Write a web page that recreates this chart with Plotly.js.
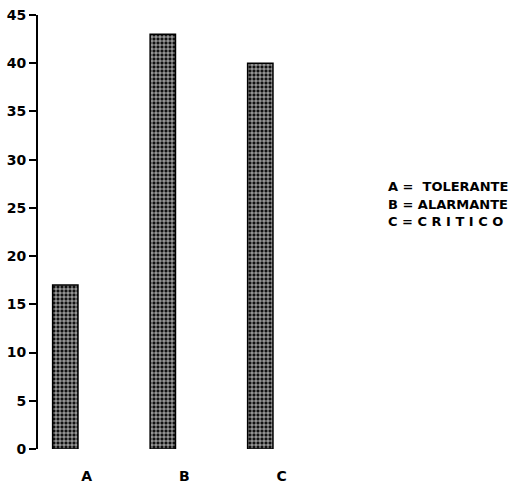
<!DOCTYPE html>
<html>
<head>
<meta charset="utf-8">
<script src="https://cdn.plot.ly/plotly-3.0.1.min.js"></script>
<style>html,body{margin:0;padding:0;background:#fff;}#chart{width:529px;height:486px;}</style>
</head>
<body>
<div id="chart"></div>
<script>
var categories = ['A', 'B', 'C'];
var values = [17, 43, 40];
var keyLabels = ['A =  TOLERANTE', 'B = ALARMANTE', 'C = C R I T I C O'];
var yTickVals = [0, 5, 10, 15, 20, 25, 30, 35, 40, 45];
var boundaryTicks = [0, 1, 2, 3, 4];

var font = {family: '"DejaVu Sans", sans-serif', size: 14, color: '#000', weight: 'bold'};

var trace = {
  type: 'bar',
  x: categories,
  y: values,
  xaxis: 'x2',
  yaxis: 'y',
  offset: -0.35,
  width: 0.26,
  marker: {
    color: '#111',
    line: {color: '#000', width: 1.5},
    pattern: {shape: '+', fgcolor: '#ffffff', bgcolor: '#111', size: 4, solidity: 0.3}
  },
  hoverinfo: 'none'
};

var annotations = keyLabels.map(function (t, i) {
  return {
    xref: 'paper', yref: 'paper',
    x: 0.893, y: 0.604 - i * 0.04,
    xanchor: 'left', yanchor: 'middle',
    text: t, showarrow: false,
    font: {family: font.family, size: 13, color: '#000', weight: 'bold'}
  };
});

var layout = {
  width: 529, height: 486,
  margin: {l: 38, r: 101, t: 15, b: 37},
  paper_bgcolor: '#fff', plot_bgcolor: '#fff',
  showlegend: false,
  xaxis: {
    type: 'linear', range: [0, 4],
    tickvals: boundaryTicks, showticklabels: false,
    ticks: 'outside', ticklen: 6, tickwidth: 2, tickcolor: '#000',
    showline: true, linecolor: '#000', linewidth: 2,
    showgrid: false, zeroline: false, fixedrange: true
  },
  xaxis2: {
    type: 'category', overlaying: 'x', anchor: 'y', side: 'bottom',
    range: [-0.5, 3.5],
    tickvals: categories, ticktext: categories,
    ticks: '', showline: false, showgrid: false, zeroline: false,
    ticklabelstandoff: 17,
    tickfont: font, fixedrange: true
  },
  yaxis: {
    range: [0, 45], tickvals: yTickVals,
    ticks: 'outside', ticklen: 7, tickwidth: 2, tickcolor: '#000',
    showline: true, linecolor: '#000', linewidth: 2,
    showgrid: false, zeroline: false,
    tickfont: font, fixedrange: true
  },
  annotations: annotations
};

Plotly.newPlot('chart', [trace], layout, {displayModeBar: false, staticPlot: true});
</script>
</body>
</html>
